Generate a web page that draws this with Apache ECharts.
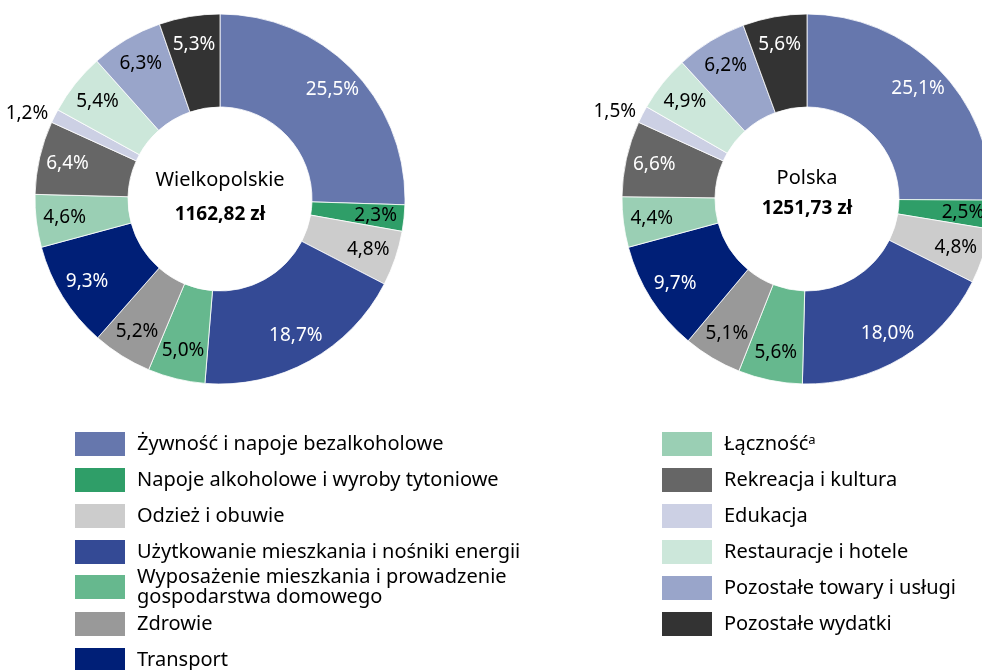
<!DOCTYPE html>
<html>
<head>
<meta charset="utf-8">
<script src="https://cdn.jsdelivr.net/npm/echarts@6/dist/echarts.min.js"></script>
<style>
  html, body { margin: 0; padding: 0; background: #fff; }
  #chart { width: 982px; height: 670px; }
</style>
</head>
<body>
<div id="chart"></div>
<script>
const categories = [
  'Żywność i napoje bezalkoholowe',
  'Napoje alkoholowe i wyroby tytoniowe',
  'Odzież i obuwie',
  'Użytkowanie mieszkania i nośniki energii',
  'Wyposażenie mieszkania i prowadzenie gospodarstwa domowego',
  'Zdrowie',
  'Transport',
  'Łączność',
  'Rekreacja i kultura',
  'Edukacja',
  'Restauracje i hotele',
  'Pozostałe towary i usługi',
  'Pozostałe wydatki'
]
const wielkopolskie = [25.5, 2.3, 4.8, 18.7, 5.0, 5.2, 9.3, 4.6, 6.4, 1.2, 5.4, 6.3, 5.3]
const polska = [25.1, 2.5, 4.8, 18.0, 5.6, 5.1, 9.7, 4.4, 6.6, 1.5, 4.9, 6.2, 5.6]
const regionNames = ['Wielkopolskie', 'Polska']
const regionTotals = ['1162,82 zł', '1251,73 zł']

const colors = ['#6677ad', '#2f9e68', '#cccccc', '#344a95', '#66b88e', '#999999', '#001f77',
  '#9acfb4', '#666666', '#ccd0e4', '#cce7da', '#99a5ca', '#333333']
const whiteLabels = [0, 3, 6, 8, 12]
const FONT = 'Noto Sans'

let myChart = echarts.init(document.getElementById('chart'))

function fmt (v) {
  return v.toFixed(1).replace('.', ',') + '%'
}

// widoczny pierścień
function ringSeries (values, cx) {
  return {
    type: 'pie',
    center: [cx, 199],
    radius: [92, 185],
    startAngle: 90,
    clockwise: true,
    silent: true,
    label: { show: false },
    labelLine: { show: false },
    itemStyle: { borderColor: '#ffffff', borderWidth: 0.8 },
    data: values.map((v, i) => ({ name: categories[i], value: v, itemStyle: { color: colors[i] } }))
  }
}

// przezroczysty pierścień tylko dla etykiet (żeby były dalej od środka)
function labelSeries (values, cx) {
  return {
    type: 'pie',
    center: [cx, 199],
    radius: [122, 185],
    startAngle: 90,
    clockwise: true,
    silent: true,
    avoidLabelOverlap: false,
    itemStyle: { color: 'rgba(0,0,0,0)' },
    label: {
      show: true,
      position: 'inside',
      fontFamily: FONT,
      fontSize: 19,
      formatter: p => fmt(p.value)
    },
    labelLine: { show: false },
    data: values.map((v, i) => {
      let item = {
        name: categories[i],
        value: v,
        label: { color: whiteLabels.indexOf(i) >= 0 ? '#ffffff' : '#000000' }
      }
      if (i === 9) {
        item.label.position = 'outside'
        item.label.offset = [4, 0]
        item.labelLine = { show: false, length: 6, length2: 0 }
      }
      return item
    })
  }
}

function centerText (cx, name, total, y1, y2) {
  return [
    {
      type: 'text', x: cx, y: y1,
      style: { text: name, fontFamily: FONT, fontSize: 20, fill: '#000', textAlign: 'center', textVerticalAlign: 'middle' }
    },
    {
      type: 'text', x: cx, y: y2,
      style: { text: total, fontFamily: FONT, fontSize: 19, fontWeight: 'bold', fill: '#000', textAlign: 'center', textVerticalAlign: 'middle' }
    }
  ]
}

const legendBase = {
  orient: 'vertical',
  padding: 0,
  itemWidth: 52,
  itemHeight: 26,
  itemGap: 8,
  height: 120,
  icon: 'rect',
  selectedMode: false,
  textStyle: { fontFamily: FONT, fontSize: 20, color: '#000', padding: [0, 0, 0, 6], lineHeight: 20 }
}

myChart.setOption({
  animation: false,
  backgroundColor: '#ffffff',
  legend: [
    Object.assign({}, legendBase, { left: 73, top: 430, height: 200, data: categories.slice(0, 4) }),
    Object.assign({}, legendBase, {
      left: 73, top: 567, data: categories.slice(4, 5),
      formatter: () => 'Wyposażenie mieszkania i prowadzenie\ngospodarstwa domowego'
    }),
    Object.assign({}, legendBase, { left: 73, top: 610, data: categories.slice(5, 7) }),
    Object.assign({}, legendBase, {
      left: 660, top: 430, height: 240, data: categories.slice(7),
      formatter: name => name === 'Łączność' ? 'Łączność{sup|a}' : name,
      textStyle: Object.assign({}, legendBase.textStyle, {
        rich: { sup: { fontFamily: FONT, fontSize: 13, verticalAlign: 'top', padding: [0, 0, 10, 0], color: '#000' } }
      })
    })
  ],
  graphic: [].concat(
    centerText(220, regionNames[0], regionTotals[0], 180, 215),
    centerText(807, regionNames[1], regionTotals[1], 178, 209)
  ),
  series: [
    ringSeries(wielkopolskie, 220),
    labelSeries(wielkopolskie, 220),
    ringSeries(polska, 807),
    labelSeries(polska, 807)
  ]
})
</script>
</body>
</html>
